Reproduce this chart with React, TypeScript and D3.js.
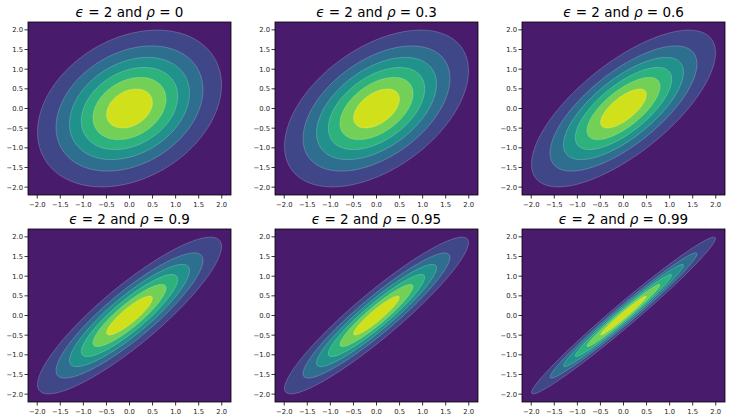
import React from "react";
import * as d3 from "d3";

// Panel parameters: epsilon and rho shown in each title, plus the
// correlation and spread of the plotted bivariate density.
const epsilon = 2;
const rhos = [0, 0.3, 0.6, 0.9, 0.95, 0.99];
const rhoLabels = ["0", "0.3", "0.6", "0.9", "0.95", "0.99"];
const planCorrelation = [0.3, 0.48, 0.71, 0.88, 0.93, 0.982];
const planSpread = [1.02, 1.02, 1.02, 1.02, 1.02, 1.02];

// Filled-contour levels as fractions of the peak density
const levelFractions = [0.148, 0.296, 0.444, 0.592, 0.74, 0.888];
const bandCount = 7;

const tickValues = [-2.0, -1.5, -1.0, -0.5, 0.0, 0.5, 1.0, 1.5, 2.0];
const domain: [number, number] = [-2.2, 2.2];

const W = 738;
const H = 419;
const colLefts = [28, 275, 522];
const rowTops = [22, 229];
const panelW = 203;
const panelH = 173;
const N = 240;

const fmt = (v: number) => (v < 0 ? "\u2212" : "") + Math.abs(v).toFixed(1);

function Panel({ idx }: { idx: number }) {
  const col = idx % 3;
  const row = Math.floor(idx / 3);
  const left = colLefts[col];
  const top = rowTops[row];
  const x = d3.scaleLinear().domain(domain).range([left, left + panelW]);
  const y = d3.scaleLinear().domain(domain).range([top + panelH, top]);

  const c = planCorrelation[idx];
  const s = planSpread[idx];
  const step = (domain[1] - domain[0]) / N;
  const values = new Array(N * N);
  for (let j = 0; j < N; j++) {
    const yv = domain[1] - (j + 0.5) * step;
    for (let i = 0; i < N; i++) {
      const xv = domain[0] + (i + 0.5) * step;
      const q = (xv * xv - 2 * c * xv * yv + yv * yv) / (s * s * (1 - c * c));
      values[i + j * N] = Math.exp(-0.5 * q);
    }
  }
  const contours = d3.contours().size([N, N]).thresholds(levelFractions)(values);
  const proj = d3.geoTransform({
    point(px: number, py: number) {
      this.stream.point(
        x(domain[0] + px * step),
        y(domain[1] - py * step)
      );
    },
  });
  const path = d3.geoPath(proj);
  const color = (k: number) => d3.interpolateViridis((k + 0.5) / bandCount);
  const clipId = `clip-${idx}`;

  return (
    <g>
      <defs>
        <clipPath id={clipId}>
          <rect x={left} y={top} width={panelW} height={panelH} />
        </clipPath>
      </defs>
      <g clipPath={`url(#${clipId})`}>
        <rect x={left} y={top} width={panelW} height={panelH} fill={color(0)} />
        {contours.map((cn, k) => (
          <path
            key={k}
            d={path(cn as any) || ""}
            fill={color(k + 1)}
            stroke="#ffffff"
            strokeOpacity={0.35}
            strokeWidth={0.6}
          />
        ))}
      </g>
      <rect
        x={left}
        y={top}
        width={panelW}
        height={panelH}
        fill="none"
        stroke="#000"
        strokeWidth={0.8}
      />
      {tickValues.map((t) => (
        <g key={`x${t}`}>
          <line x1={x(t)} x2={x(t)} y1={top + panelH} y2={top + panelH + 3.5} stroke="#000" strokeWidth={0.8} />
          <text x={x(t)} y={top + panelH + 12} fontSize={6.8} textAnchor="middle" fill="#222" fontFamily="DejaVu Sans">
            {fmt(t)}
          </text>
        </g>
      ))}
      {tickValues.map((t) => (
        <g key={`y${t}`}>
          <line x1={left - 3.5} x2={left} y1={y(t)} y2={y(t)} stroke="#000" strokeWidth={0.8} />
          <text x={left - 5} y={y(t) + 2.4} fontSize={6.8} textAnchor="end" fill="#222" fontFamily="DejaVu Sans">
            {fmt(t)}
          </text>
        </g>
      ))}
      <text
        x={left + panelW / 2}
        y={top - 5}
        fontSize={13.5}
        textAnchor="middle"
        fill="#000"
        fontFamily="DejaVu Sans"
      >
        <tspan fontStyle="italic">{"\u03f5"}</tspan>
        {` = ${epsilon} and `}
        <tspan fontStyle="italic">{"\u03c1"}</tspan>
        {` = ${rhoLabels[idx]}`}
      </text>
    </g>
  );
}

export default function App() {
  return (
    <svg width={W} height={H} style={{ display: "block", position: "absolute", left: 0, top: 0 }}>
      <rect width={W} height={H} fill="#fff" />
      {rhos.map((_, i) => (
        <Panel key={i} idx={i} />
      ))}
    </svg>
  );
}
